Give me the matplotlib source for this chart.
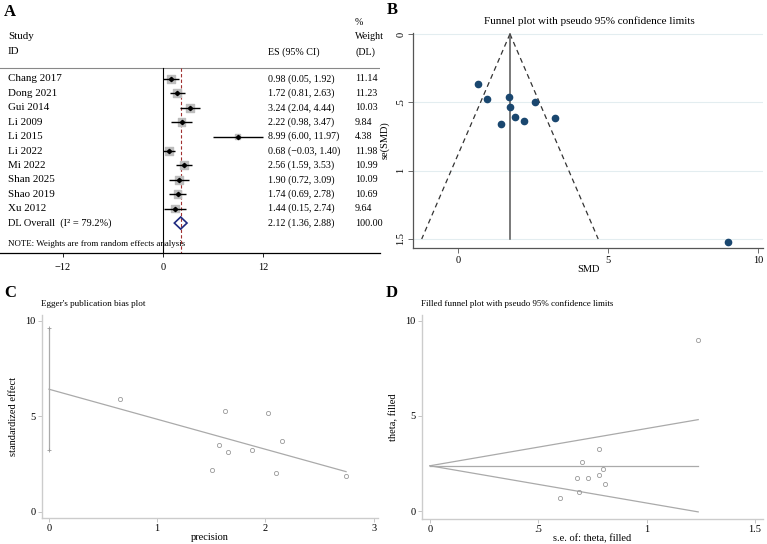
import numpy as np
import matplotlib.pyplot as plt
from matplotlib.patches import Polygon

plt.rcParams['font.family'] = ['Liberation Serif', 'DejaVu Serif']
plt.rcParams['font.size'] = 7.5

# ---- data ----
studies = ["Chang 2017", "Dong 2021", "Gui 2014", "Li 2009", "Li 2015",
           "Li 2022", "Mi 2022", "Shan 2025", "Shao 2019", "Xu 2012"]
es = [0.98, 1.72, 3.24, 2.22, 8.99, 0.68, 2.56, 1.90, 1.74, 1.44]
ci_lo = [0.05, 0.81, 2.04, 0.98, 6.00, -0.03, 1.59, 0.72, 0.69, 0.15]
ci_hi = [1.92, 2.63, 4.44, 3.47, 11.97, 1.40, 3.53, 3.09, 2.78, 2.74]
weights = [11.14, 11.23, 10.03, 9.84, 4.38, 11.98, 10.99, 10.09, 10.69, 9.64]
overall = (2.12, 1.36, 2.88)
i2 = 79.2

# funnel plot (B)
se_smd = [0.477, 0.464, 0.612, 0.635, 1.523, 0.365, 0.495, 0.605, 0.533, 0.661]
fixed_est = 1.74

# Egger plot (C)
precision = [2.10, 2.15, 1.63, 1.57, 0.66, 2.74, 2.02, 1.65, 1.88, 1.51]
std_effect = [2.05, 3.70, 5.29, 3.50, 5.90, 1.86, 5.17, 3.14, 3.26, 2.18]
egger_line = ([0.0, 2.745], [6.42, 2.10])
egger_ci = (3.22, 9.62)

# filled funnel (D)
se_filled = [0.69, 0.68, 0.78, 0.80, 1.235, 0.60, 0.70, 0.78, 0.73, 0.81]
theta_filled = es
theta0 = 2.38
se_max = 1.238

W, H = 767, 544
fig = plt.figure(figsize=(W / 100, H / 100), dpi=100)


def box(l, t, r, b):
    return [l / W, 1 - b / H, (r - l) / W, (b - t) / H]


def label(x, y, s):
    fig.text(x / W, 1 - y / H, s, fontsize=12, fontweight='bold', ha='center', va='center')


# ---------------- A: forest plot ----------------
ax = fig.add_axes(box(0, 15, 380, 253))
ax.set_xlim(-19.56, 26.04)
ax.set_ylim(12.08, -4.44)
for s in ['top', 'left', 'right']:
    ax.spines[s].set_visible(False)
ax.spines['bottom'].set_linewidth(0.9)
ax.set_yticks([])
ax.set_xticks([-12, 0, 12])
ax.set_xticklabels(['\u221212', '0', '12'])
ax.tick_params(axis='x', length=3, width=0.6, pad=4, labelsize=7.5)

fs = 7.2
fs_name = 7.9
rows = np.arange(len(studies))
ax.axhline(-0.76, color='#888888', lw=0.8)
ax.plot([0, 0], [-0.76, 12.08], color='black', lw=0.8)
ax.plot([overall[0]] * 2, [-0.76, 12.08], color='#a03030', lw=0.8, dashes=(3, 2))
ax.scatter(es, rows, s=np.array(weights) * 3, marker='s', color='#bdbdbd', zorder=2)
ax.hlines(rows, ci_lo, ci_hi, color='black', lw=1.0, zorder=3)
ax.plot(es, rows, 'D', color='black', ms=2.2, zorder=4)
r = len(studies)
ax.add_patch(Polygon([(overall[1], r), (overall[0], r - 0.42), (overall[2], r), (overall[0], r + 0.42)],
                     closed=True, fill=False, edgecolor='#1f2a80', lw=1.2, zorder=4))

x_name, x_es, x_w = -18.6, 12.6, 23.04
for i, name in enumerate(studies):
    ax.text(x_name, i, name, va='center', fontsize=fs_name)
    ax.text(x_es, i, f"{es[i]:.2f} ({ci_lo[i]:.2f}, {ci_hi[i]:.2f})".replace('-', '\u2212'),
            va='center', fontsize=fs)
    ax.text(x_w, i, f"{weights[i]:.2f}", va='center', fontsize=fs)
ax.text(x_name, r, f"DL Overall  (I\u00b2 = {i2}%)", va='center', fontsize=fs + 0.3)
ax.text(x_es, r, f"{overall[0]:.2f} ({overall[1]:.2f}, {overall[2]:.2f})", va='center', fontsize=fs)
ax.text(x_w, r, "100.00", va='center', fontsize=fs)
ax.text(x_name, 11.46, "NOTE: Weights are from random effects analysis", va='center', fontsize=6.4)
ax.text(x_name, -2.92, "Study", va='center', fontsize=fs_name)
ax.text(x_name, -1.88, "ID", va='center', fontsize=fs_name)
ax.text(x_es, -1.88, "ES (95% CI)", va='center', fontsize=fs)
ax.text(x_w, -3.9, "%", va='center', fontsize=fs)
ax.text(x_w, -2.92, "Weight", va='center', fontsize=fs)
ax.text(x_w, -1.88, "(DL)", va='center', fontsize=fs)
label(10, 12, "A")

# ---------------- B: funnel plot ----------------
ax = fig.add_axes(box(413, 33, 763, 248))
ax.set_xlim(-1.49, 10.17)
ax.set_ylim(1.566, -0.007)
for s in ['top', 'right']:
    ax.spines[s].set_visible(False)
for s in ['left', 'bottom']:
    ax.spines[s].set_color('#555555')
    ax.spines[s].set_linewidth(0.9)
ax.set_yticks([0, 0.5, 1, 1.5])
ax.set_yticklabels(['0', '.5', '1', '1.5'], rotation=90, va='center')
ax.set_xticks([0, 5, 10])
ax.tick_params(length=3.5, width=0.6, color='#555555', pad=2)
for g in [0, 0.5, 1, 1.5]:
    ax.axhline(g, color='#e3edf0', lw=0.8, zorder=0)
se_grid = np.array([0, 1.5])
ax.plot(fixed_est - 1.96 * se_grid, se_grid, color='#333333', lw=0.9, dashes=(4, 3))
ax.plot(fixed_est + 1.96 * se_grid, se_grid, color='#333333', lw=0.9, dashes=(4, 3))
ax.plot([fixed_est, fixed_est], [0, 1.5], color='#555555', lw=1.1)
ax.plot(es, se_smd, 'o', color='#1a476f', ms=4.5, zorder=3)
ax.set_xlabel("SMD", labelpad=0)
ax.set_ylabel("se(SMD)", labelpad=5)
fig.text(589 / W, 1 - 21 / H, "Funnel plot with pseudo 95% confidence limits",
         fontsize=8, ha='center', va='center')
label(392, 10, "B")

# ---------------- C: Egger plot ----------------
ax = fig.add_axes(box(41.7, 315, 378, 518))
ax.set_xlim(-0.067, 3.04)
ax.set_ylim(-0.33, 10.31)
for s in ['top', 'right']:
    ax.spines[s].set_visible(False)
for s in ['left', 'bottom']:
    ax.spines[s].set_color('#cccccc')
    ax.spines[s].set_linewidth(1.0)
ax.set_xticks([0, 1, 2, 3])
ax.set_yticks([0, 5, 10])
ax.tick_params(length=3, width=0.6, color='#bbbbbb', pad=1.5)
ax.plot(*egger_line, color='#aaaaaa', lw=0.9)
ax.plot([0, 0], egger_ci, color='#aaaaaa', lw=0.9)
ax.plot([0, 0], egger_ci, '+', color='#999999', ms=3, mew=0.6)
ax.plot(precision, std_effect, 'o', mfc='none', mec='#999999', ms=3, mew=0.6)
ax.set_xlabel("precision", labelpad=0)
ax.set_ylabel("standardized effect", labelpad=5)
ax.text(-0.077, 10.9, "Egger's publication bias plot", fontsize=6.6, va='center')
label(10, 293, "C")

# ---------------- D: filled funnel ----------------
ax = fig.add_axes(box(421.7, 315, 763, 519))
ax.set_xlim(-0.038, 1.537)
ax.set_ylim(-0.42, 10.31)
for s in ['top', 'right']:
    ax.spines[s].set_visible(False)
for s in ['left', 'bottom']:
    ax.spines[s].set_color('#cccccc')
    ax.spines[s].set_linewidth(1.0)
ax.set_xticks([0, 0.5, 1, 1.5])
ax.set_xticklabels(['0', '.5', '1', '1.5'])
ax.set_yticks([0, 5, 10])
ax.tick_params(length=3, width=0.6, color='#bbbbbb', pad=1.5)
se_end = np.array([0, se_max])
ax.plot(se_end, theta0 + 1.96 * se_end, color='#aaaaaa', lw=0.9)
ax.plot(se_end, theta0 - 1.96 * se_end, color='#aaaaaa', lw=0.9)
ax.plot(se_end, [theta0, theta0], color='#aaaaaa', lw=0.9)
ax.plot(se_filled, theta_filled, 'o', mfc='none', mec='#999999', ms=3, mew=0.6)
ax.set_xlabel("s.e. of: theta, filled", labelpad=0)
ax.set_ylabel("theta, filled", labelpad=5)
ax.text(-0.043, 10.9, "Filled funnel plot with pseudo 95% confidence limits", fontsize=6.5, va='center')
label(392, 293, "D")

fig.savefig("out.png", dpi=100)
